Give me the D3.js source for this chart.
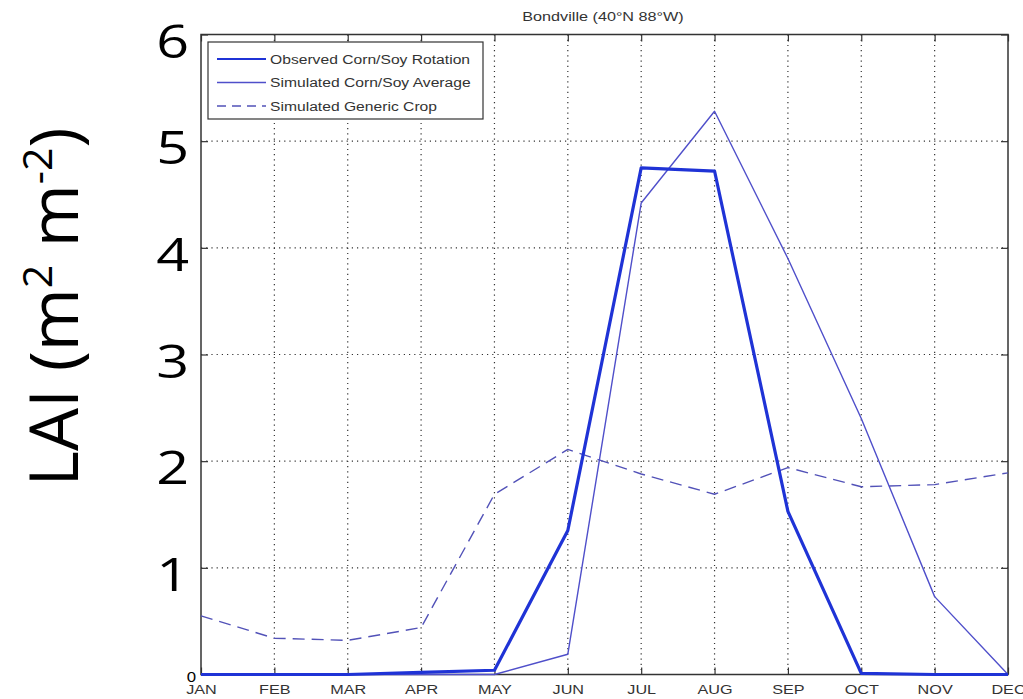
<!DOCTYPE html>
<html>
<head>
<meta charset="utf-8">
<script src="https://cdn.jsdelivr.net/npm/d3@7"></script>
<style>
  html, body { margin: 0; padding: 0; background: #fff; }
  svg { display: block; }
</style>
</head>
<body>
<svg id="chart" width="1023" height="699"></svg>
<script>
// Monthly leaf area index at Bondville
const months = ["JAN","FEB","MAR","APR","MAY","JUN","JUL","AUG","SEP","OCT","NOV","DEC"];
const observedRotation = [0, 0, 0, 0.02, 0.04, 1.35, 4.75, 4.72, 1.53, 0.01, 0, 0];
const simulatedAverage = [0, 0, 0, 0, 0, 0.19, 4.42, 5.28, 3.9, 2.4, 0.73, 0];
const simulatedGeneric = [0.55, 0.34, 0.32, 0.44, 1.69, 2.11, 1.88, 1.69, 1.94, 1.76, 1.78, 1.89];
const yTicks = [0, 1, 2, 3, 4, 5, 6];
const seriesNames = ["Observed Corn/Soy Rotation", "Simulated Corn/Soy Average", "Simulated Generic Crop"];

const svg = d3.select("#chart");
const plotLeft = 201, plotRight = 1008, plotTop = 34.5, plotBottom = 674.5;
const smallFont = "'Liberation Sans', Arial, sans-serif";
const bigFont = "'Open Sans', 'Liberation Sans', sans-serif";
const widen = 1.2; // small text is drawn slightly wide

const x = d3.scalePoint().domain(months).range([plotLeft, plotRight]);
const y = d3.scaleLinear().domain([0, 6]).range([plotBottom, plotTop]);

// dotted grid
const grid = svg.append("g");
grid.selectAll("line.v").data(months.slice(1, -1)).join("line")
  .attr("x1", d => x(d)).attr("x2", d => x(d))
  .attr("y1", plotTop).attr("y2", plotBottom)
  .attr("stroke", "#333").attr("stroke-width", 1.2).attr("stroke-dasharray", "1.2,4");
grid.selectAll("line.h").data(yTicks.slice(1, -1)).join("line")
  .attr("x1", plotLeft).attr("x2", plotRight)
  .attr("y1", d => y(d)).attr("y2", d => y(d))
  .attr("stroke", "#333").attr("stroke-width", 1.2).attr("stroke-dasharray", "1.2,4");

// axes with ticks on all sides
const tickStyle = g => {
  g.select(".domain").remove();
  g.selectAll(".tick line").attr("stroke", "#333").attr("stroke-width", 1.2);
};
svg.append("g").attr("transform", `translate(0,${plotBottom})`)
  .call(d3.axisBottom(x).tickSizeInner(-7).tickSizeOuter(0).tickPadding(10))
  .call(tickStyle)
  .call(g => g.selectAll(".tick text").attr("fill", "#333")
    .attr("transform", `scale(${widen},1)`)
    .style("font-family", smallFont).style("font-size", "13.5px"));
svg.append("g").attr("transform", `translate(0,${plotTop})`)
  .call(d3.axisTop(x).tickSizeInner(-7).tickSizeOuter(0).tickFormat(""))
  .call(tickStyle);
svg.append("g").attr("transform", `translate(${plotRight},0)`)
  .call(d3.axisRight(y).tickValues(yTicks).tickSizeInner(-7).tickSizeOuter(0).tickFormat(""))
  .call(tickStyle);
svg.append("g").attr("transform", `translate(${plotLeft},0)`)
  .call(d3.axisLeft(y).tickValues(yTicks).tickSizeInner(-7).tickSizeOuter(0).tickFormat(""))
  .call(tickStyle);

// frame
svg.append("rect").attr("x", plotLeft).attr("y", plotTop)
  .attr("width", plotRight - plotLeft).attr("height", plotBottom - plotTop)
  .attr("fill", "none").attr("stroke", "#333").attr("stroke-width", 1.5);

// large y tick labels
svg.append("g").selectAll("text").data(yTicks.slice(1)).join("text")
  .attr("transform", d => `translate(189,${y(d) + 5}) scale(1.25,1)`)
  .attr("text-anchor", "end").attr("dominant-baseline", "central")
  .style("font-family", bigFont).style("font-size", "46px")
  .attr("fill", "#000").text(d => d);
svg.append("text")
  .attr("transform", `translate(196,${plotBottom + 7}) scale(${widen},1)`)
  .attr("text-anchor", "end")
  .style("font-family", smallFont).style("font-size", "14px")
  .attr("fill", "#000").text("0");

// y axis title
const yt = svg.append("text")
  .attr("transform", "translate(78,307) rotate(-90)")
  .attr("text-anchor", "middle")
  .style("font-family", bigFont).style("font-size", "68px")
  .attr("fill", "#000");
yt.append("tspan").text("LAI (m");
yt.append("tspan").attr("dy", -26).style("font-size", "41px").text("2");
yt.append("tspan").attr("dy", 26).text(" m");
yt.append("tspan").attr("dy", -26).style("font-size", "41px").text("-2");
yt.append("tspan").attr("dy", 26).text(")");

// chart title
svg.append("text")
  .attr("transform", `translate(603,21) scale(${widen},1)`)
  .attr("text-anchor", "middle")
  .style("font-family", smallFont).style("font-size", "13.5px")
  .attr("fill", "#333").text("Bondville (40°N 88°W)");

// series
const styles = [
  { data: observedRotation, color: "#1f33d6", width: 3.2, dash: null },
  { data: simulatedAverage, color: "#4f4fca", width: 1.4, dash: null },
  { data: simulatedGeneric, color: "#5252b8", width: 1.4, dash: "12,7" }
];
const line = d3.line().x((d, i) => x(months[i])).y(d => y(d));
const plot = svg.append("g");
[2, 1, 0].forEach(k => {
  const s = styles[k];
  plot.append("path").datum(s.data)
    .attr("d", line).attr("fill", "none")
    .attr("stroke", s.color).attr("stroke-width", s.width)
    .attr("stroke-linejoin", "round")
    .attr("stroke-dasharray", s.dash);
});

// legend
const lg = svg.append("g");
lg.append("rect").attr("x", 208).attr("y", 42).attr("width", 275).attr("height", 77)
  .attr("fill", "#fff").attr("stroke", "#333").attr("stroke-width", 1.2);
seriesNames.forEach((name, i) => {
  const yy = 59 + i * 23.5;
  const s = styles[i];
  lg.append("line").attr("x1", 217).attr("x2", 266).attr("y1", yy).attr("y2", yy)
    .attr("stroke", s.color).attr("stroke-width", s.width === 3.2 ? 2.2 : 1.4)
    .attr("stroke-dasharray", s.dash ? "9,6" : null);
  lg.append("text")
    .attr("transform", `translate(270,${yy}) scale(1.16,1)`)
    .attr("dominant-baseline", "central")
    .style("font-family", smallFont).style("font-size", "13.5px")
    .attr("fill", "#333").text(name);
});
</script>
</body>
</html>
